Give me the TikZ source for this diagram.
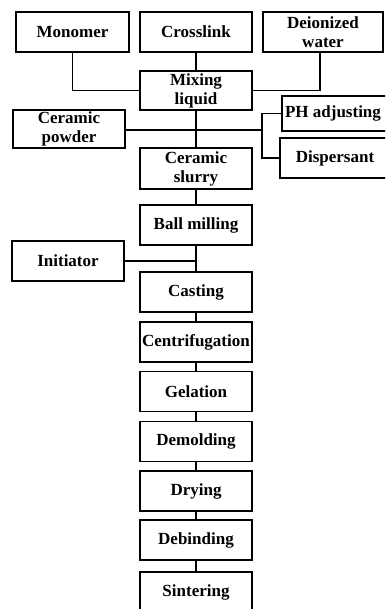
\documentclass[tikz,border=0pt]{standalone}
\usepackage{fontspec}
\setmainfont{Liberation Serif}
\usetikzlibrary{positioning}

\begin{document}
\begin{tikzpicture}[x=1pt,y=-1pt,line width=1.6pt,
  every node/.style={font=\bfseries\fontsize{17}{19}\selectfont},
  proc/.style={draw,align=center,inner sep=0pt,minimum width=112pt,minimum height=40pt}]
\useasboundingbox (0,0) rectangle (385,609);
\clip (0,0) rectangle (385,609);
% raw materials
\node[proc,minimum width=113pt] (monomer) at (72.5,32) {Monomer};
\node[proc] (crosslink) at (196,32) {Crosslink};
\node[proc,minimum width=120pt] (water) at (323,32) {Deionized\\water};
\node[proc,minimum height=39pt] (mixing) at (196,90.5) {Mixing\\liquid};
\node[proc,minimum height=38pt] (powder) at (69,129) {Ceramic\\powder};
\node[proc,minimum width=108pt,minimum height=35pt] (ph) at (336,113.5) {PH adjusting\hspace{6pt}};
\node[proc,minimum width=110pt] (disp) at (335,158) {Dispersant};
\node[proc,minimum height=41pt] (slurry) at (196,168.5) {Ceramic\\slurry};
% process chain
\node[proc] (ball) at (196,225) {Ball milling};
\node[proc] (init) at (68,261) {Initiator};
\node[proc] (casting) at (196,292) {Casting};
\node[proc] (centri) at (196,342) {Centrifugation};
\node[proc] (gel) at (196,391.5) {Gelation};
\node[proc] (demold) at (196,441.5) {Demolding};
\node[proc] (dry) at (196,491) {Drying};
\node[proc] (debind) at (196,540) {Debinding};
\node[proc] (sinter) at (196,592) {Sintering};
\coordinate (branch) at (262,130);
% connectors
\draw (monomer.south) |- (mixing.west);
\draw (crosslink) -- (mixing);
\draw ([xshift=-3pt]water.south) |- (mixing.east);
\draw (mixing) -- (slurry);
\draw (powder.east |- branch) -- (branch);
\draw (ph.west) -| (branch) |- (disp.west);
\draw (slurry) -- (ball);
\draw (ball) -- (casting);
\draw (init.east) -- (init.east -| ball.south);
\draw (casting) -- (centri);
\draw (centri) -- (gel);
\draw (gel) -- (demold);
\draw (demold) -- (dry);
\draw (dry) -- (debind);
\draw (debind) -- (sinter);
\end{tikzpicture}
\end{document}
